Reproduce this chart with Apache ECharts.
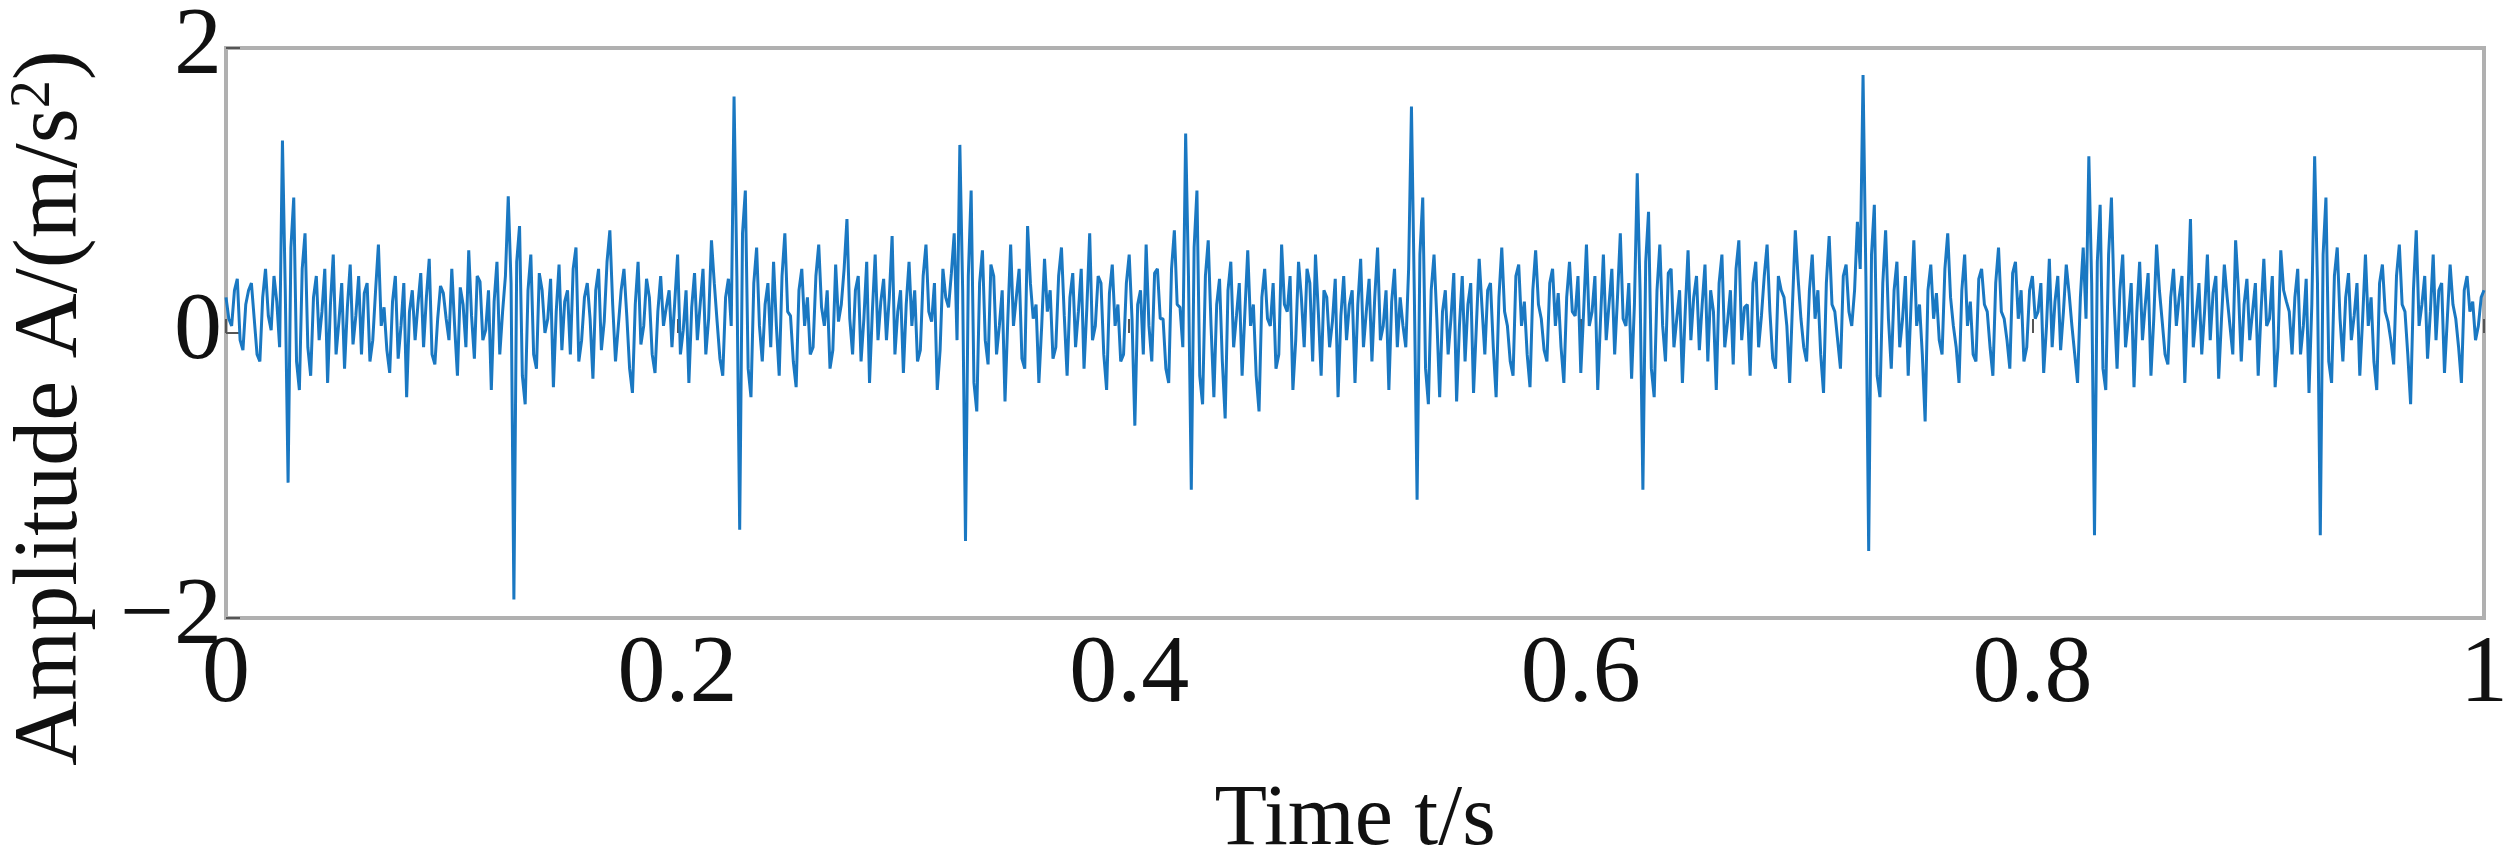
<!DOCTYPE html>
<html><head><meta charset="utf-8">
<script src="https://cdn.jsdelivr.net/npm/echarts@6/dist/echarts.min.js"></script>
<style>html,body{margin:0;padding:0;background:#fff}#c{width:2510px;height:851px}</style>
</head><body><div id="c"></div>
<script>
const step = 0.0025;
// samples at t = i*step
const b0 = [0.25,0.05,0.38,-0.12,0.30,0.10,-0.20,0.45,0.02,0.22,1.35,-1.05,0.95,-0.40,0.70,-0.30,0.40,0.15,-0.35,0.55,0.08,-0.25,0.48,0.12,-0.15,0.35,-0.05,0.62,0.18,-0.28,0.40,0.05,-0.45,0.30,0.20,-0.10,0.52,-0.22,0.33,0.10];
const b1 = [0.45,-0.30,0.20,0.58,-0.18,0.36,0.02,-0.40,0.50,0.15,0.96,-1.87,0.75,-0.50,0.55,-0.25,0.30,0.10,-0.38,0.48,0.22,-0.15,0.60,-0.05,0.35,-0.32,0.45,0.08,0.72,-0.20,0.30,0.12,-0.42,0.50,0.05,0.25,-0.28,0.40,0.18,-0.10];
const b2 = [0.55,0.02,-0.35,0.42,0.20,-0.15,0.65,0.08,-0.30,0.38,1.66,-1.38,1.00,-0.45,0.60,-0.20,0.35,0.50,-0.30,0.70,0.12,-0.38,0.45,0.25,-0.10,0.62,0.05,-0.25,0.48,0.20,0.80,-0.15,0.40,0.10,-0.35,0.55,0.22,-0.05,0.68,0.15];
const b3 = [-0.28,0.50,0.30,-0.12,0.62,0.08,-0.40,0.45,0.18,0.70,1.32,-1.46,1.00,-0.55,0.58,-0.22,0.40,0.05,-0.48,0.62,0.25,-0.18,0.75,0.10,-0.35,0.52,0.30,-0.10,0.60,-0.30,0.42,0.15,-0.25,0.70,0.05,0.35,-0.40,0.48,0.20,-0.15];
const b4 = [0.55,-0.65,0.30,0.62,-0.20,0.45,0.10,-0.35,0.72,0.18,1.40,-1.10,1.00,-0.50,0.65,-0.45,0.38,-0.60,0.50,0.12,-0.30,0.58,0.20,-0.55,0.45,0.05,-0.25,0.62,0.15,-0.40,0.50,-0.10,0.35,0.55,-0.30,0.25,0.08,-0.45,0.40,0.20];
const b5 = [-0.35,0.52,0.15,-0.20,0.60,0.05,-0.40,0.45,0.25,-0.10,1.59,-1.17,0.95,-0.50,0.55,-0.45,0.30,0.10,-0.48,0.40,0.20,-0.42,0.52,-0.15,0.35,-0.45,0.60,0.05,-0.30,0.48,0.22,-0.38,0.58,0.10,-0.20,0.45,0.28,-0.35,0.50,0.12];
const b6 = [-0.28,0.62,0.15,-0.40,0.55,0.20,-0.15,0.70,0.05,-0.32,1.12,-1.10,0.85,-0.45,0.62,-0.20,0.45,0.10,-0.35,0.58,0.25,-0.12,0.48,0.30,-0.40,0.55,0.08,-0.22,0.65,0.18,-0.30,0.50,0.12,0.62,-0.18,0.40,0.25,-0.35,0.72,0.10];
const b7 = [-0.20,0.55,0.30,-0.42,0.68,0.15,-0.25,0.48,0.05,0.78,1.81,-1.53,0.90,-0.45,0.72,-0.25,0.50,0.10,-0.30,0.65,0.20,-0.62,0.48,0.28,-0.15,0.70,0.05,-0.35,0.55,0.22,-0.20,0.45,0.15,-0.30,0.60,0.10,-0.25,0.50,0.30,-0.10];
const b8 = [0.40,0.15,-0.28,0.52,0.22,-0.12,0.48,0.05,-0.35,0.60,1.24,-1.42,0.90,-0.40,0.95,-0.25,0.55,0.10,-0.38,0.50,0.20,-0.30,0.62,0.08,-0.22,0.45,0.25,-0.35,0.80,0.12,-0.15,0.55,0.28,-0.32,0.48,0.05,0.65,-0.20,0.38,0.15];
const b9 = [-0.30,0.52,0.10,-0.38,0.58,0.22,-0.15,0.45,0.05,-0.42,1.24,-1.42,0.95,-0.35,0.60,-0.20,0.42,0.12,-0.30,0.55,0.25,-0.40,0.48,0.08,-0.22,0.62,0.15,-0.50,0.72,0.20,-0.18,0.55,0.30,-0.28,0.48,0.10,-0.35,0.40,0.22,0.05];
const tail = [0.30];
// samples at t = i*step + step/2
const m0 = [0.10,0.30,-0.05,0.20,0.35,-0.15,0.25,0.12,0.40,-0.10,0.30,0.60,-0.20,0.45,-0.10,0.25,-0.05,0.45,0.20,-0.15,0.35,0.18,-0.08,0.40,0.28,-0.20,0.30,0.05,-0.12,0.22,-0.18,0.35,0.15,-0.05,0.42,0.25,-0.15,0.10,0.28,-0.05];
const m1 = [0.05,0.32,-0.10,0.12,0.40,-0.05,0.30,0.22,-0.15,0.40,0.35,0.50,-0.30,0.30,-0.15,0.42,0.00,0.38,0.15,-0.12,0.30,0.45,-0.20,0.25,0.10,0.30,-0.12,0.50,0.20,0.05,0.45,-0.25,0.20,-0.08,0.38,-0.15,0.15,0.05,0.30,0.22];
const m2 = [-0.15,0.30,0.18,-0.05,0.45,0.10,0.35,-0.18,0.25,0.05,0.40,0.70,-0.25,0.35,0.05,0.20,-0.10,0.05,0.40,0.15,-0.20,0.30,0.05,-0.15,0.40,0.18,0.30,-0.12,0.08,0.45,0.10,0.30,-0.20,0.50,0.15,-0.05,0.38,0.25,-0.15,0.30];
const m3 = [0.20,0.05,-0.20,0.40,0.15,0.35,-0.12,0.25,0.42,-0.05,0.30,0.40,-0.35,0.35,-0.05,0.48,-0.15,0.30,0.10,0.05,0.45,-0.25,0.35,0.20,0.05,0.15,-0.18,0.40,0.12,0.25,-0.10,0.45,0.18,-0.05,0.40,-0.15,0.28,0.05,-0.20,0.35];
const m4 = [0.10,0.20,-0.15,0.05,0.42,0.10,-0.25,0.45,0.20,-0.10,0.40,0.60,-0.30,0.40,0.05,0.20,-0.20,0.30,-0.10,0.35,0.15,0.05,-0.30,0.25,0.10,0.35,-0.15,0.20,0.40,-0.05,0.25,0.45,-0.20,0.15,0.30,-0.10,0.38,0.12,-0.05,0.30];
const m5 = [0.20,-0.10,0.38,0.25,-0.05,0.30,0.22,-0.10,0.05,0.45,0.30,0.55,-0.25,0.30,0.10,0.15,-0.15,0.42,0.05,-0.20,0.35,0.05,0.18,0.30,-0.10,0.25,0.15,-0.20,0.40,0.05,-0.15,0.30,0.20,-0.12,0.35,0.05,-0.10,0.25,0.15,0.40];
const m6 = [0.15,0.05,0.40,0.10,-0.05,0.45,0.25,0.10,0.35,0.20,0.30,0.50,-0.25,0.30,0.05,0.42,-0.10,0.30,0.15,-0.05,0.40,0.20,-0.20,0.15,0.35,-0.10,0.30,0.45,-0.05,0.20,0.35,-0.10,0.40,0.15,-0.25,0.30,0.05,0.20,0.38,-0.10];
const m7 = [0.30,0.10,-0.15,0.35,0.20,-0.05,0.40,0.15,0.30,0.45,0.40,0.55,-0.30,0.35,0.10,0.30,-0.10,0.40,0.20,0.05,-0.15,0.30,0.10,-0.05,0.45,0.25,-0.10,0.30,0.05,-0.15,0.38,0.20,-0.10,0.35,0.15,-0.05,0.42,0.10,-0.20,0.30];
const m8 = [0.10,0.35,0.05,-0.10,0.40,0.15,0.28,-0.15,0.25,0.10,0.35,0.50,-0.25,0.55,0.20,0.30,-0.10,0.35,0.15,-0.05,0.42,0.10,0.30,-0.15,0.25,0.05,0.40,0.20,-0.10,0.35,0.15,-0.05,0.40,0.10,0.25,-0.15,0.30,0.20,-0.05,0.35];
const m9 = [0.15,0.05,0.40,-0.10,0.30,0.15,0.25,-0.15,0.38,0.20,0.35,0.55,-0.20,0.40,0.10,0.25,-0.05,0.35,0.10,0.05,-0.20,0.35,0.15,-0.05,0.40,0.20,-0.15,0.30,0.05,0.40,0.15,-0.05,0.35,0.10,0.20,-0.10,0.30,0.15,-0.05,0.25];
const xTicks = [0, 0.2, 0.4, 0.6, 0.8, 1];
const yTicks = [-2, 0, 2];

const coarse = [].concat(b0,b1,b2,b3,b4,b5,b6,b7,b8,b9,tail);
const mids = [].concat(m0,m1,m2,m3,m4,m5,m6,m7,m8,m9);
const data = [];
coarse.forEach((v,i)=>{
  data.push([+(i*step).toFixed(5), v]);
  if (i < mids.length) data.push([+(i*step+step/2).toFixed(5), mids[i]]);
});
const font = '"Liberation Serif", "Times New Roman", serif';
const chart = echarts.init(document.getElementById('c'));
chart.setOption({
  animation:false,
  grid:{left:226,right:26,top:48,bottom:233,outerBoundsMode:'none',containLabel:false,
    show:true,borderColor:'#b0b0b0',borderWidth:4},
  xAxis:{type:'value',min:0,max:1,interval:0.2,
    name:'Time t/s',nameLocation:'middle',nameGap:160,
    nameTextStyle:{fontFamily:font,fontSize:86,color:'#111'},
    axisLine:{show:false},splitLine:{show:false},
    axisTick:{inside:true,length:14,lineStyle:{color:'#555',width:2}},
    axisLabel:{fontFamily:font,fontSize:96,color:'#111',margin:10,
      formatter:v=>xTicks.includes(+v.toFixed(1))?String(+v.toFixed(1)):''}},
  yAxis:{type:'value',min:-2,max:2,interval:2,
    name:'Amplitude A/(m/s{sup|2})',nameLocation:'middle',nameGap:128,
    nameTextStyle:{fontFamily:font,fontSize:90,color:'#111',padding:[0,150,0,0],
      rich:{sup:{fontFamily:font,fontSize:56,verticalAlign:'top',padding:[0,0,36,0]}}},
    axisLine:{show:false},splitLine:{show:false},
    axisTick:{inside:true,length:14,lineStyle:{color:'#555',width:2}},
    axisLabel:{fontFamily:font,fontSize:96,color:'#111',margin:4,
      formatter:v=>yTicks.includes(v)?(v<0?'\u2212'+(-v):String(v)):''}},
  series:[{type:'line',data:data,showSymbol:false,
    lineStyle:{color:'#1a78c2',width:3}}]
});
</script></body></html>
